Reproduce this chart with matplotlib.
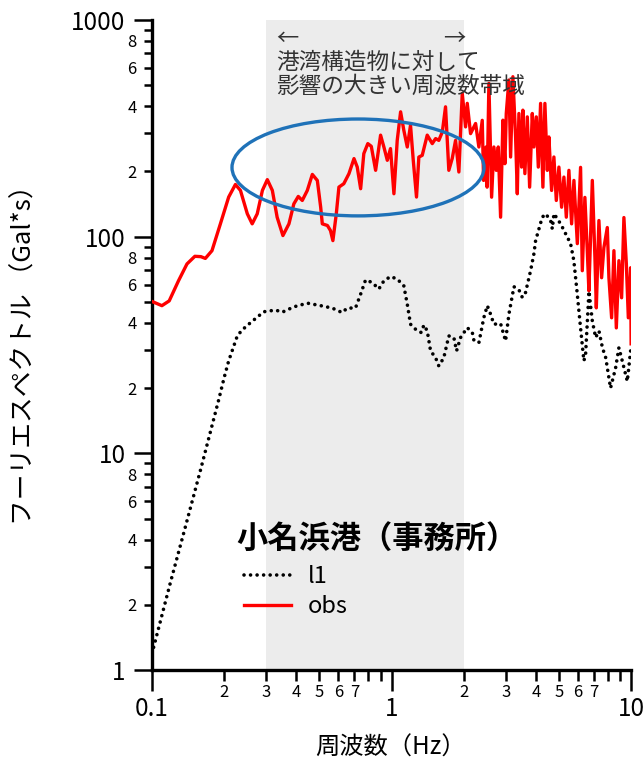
import matplotlib
matplotlib.use("Agg")
import matplotlib.pyplot as plt
from matplotlib.patches import Ellipse
from matplotlib.ticker import FixedLocator, FixedFormatter

plt.rcParams["font.family"] = ["Noto Sans CJK JP", "DejaVu Sans"]

# --- Data (frequency in Hz, amplitude in Gal*s) ---
l1_freq = [0.100, 0.119, 0.138, 0.160, 0.190, 0.200, 0.209, 0.227, 0.238, 0.258,
           0.293, 0.328, 0.350, 0.391, 0.445, 0.506, 0.565, 0.622, 0.653, 0.707,
           0.743, 0.779, 0.830, 0.885, 0.929, 0.990, 1.056, 1.125, 1.163, 1.200,
           1.280, 1.330, 1.365, 1.409, 1.455, 1.527, 1.575, 1.652, 1.734, 1.820,
           1.868, 1.941, 2.070, 2.173, 2.207, 2.315, 2.428, 2.510, 2.589, 2.674,
           2.851, 2.992, 3.090, 3.243, 3.404, 3.514, 3.625, 3.805, 3.928, 3.993,
           4.257, 4.396, 4.613, 4.688, 4.763, 5.090, 5.588, 5.767, 5.960, 6.149,
           6.351, 6.457, 6.668, 6.887, 7.111, 7.342, 7.590, 7.834, 8.206, 8.616,
           8.892, 9.183, 9.640, 9.950]
l1_amp = [1.19, 2.5, 4.6, 8.5, 17.7, 22.3, 26.7, 34.8, 37.1, 40.1,
          45.0, 45.8, 44.8, 47.4, 49.3, 48.0, 46.8, 44.6, 46.8, 46.8,
          54.3, 63.1, 61.4, 57.3, 62.5, 65.4, 63.7, 59.3, 48.8, 39.4,
          36.7, 36.1, 39.1, 36.7, 29.7, 27.6, 25.3, 27.6, 34.8, 34.2,
          29.7, 34.2, 38.0, 36.1, 33.2, 32.4, 42.3, 48.0, 43.9, 39.4,
          39.7, 33.0, 43.9, 58.7, 56.7, 52.4, 55.2, 69.6, 83.2, 95.8,
          122.8, 127.4, 118.6, 108.6, 127.6, 114.0, 92.8, 77.4, 54.3, 38.0,
          26.7, 28.7, 56.0, 40.8, 34.2, 36.7, 30.7, 27.6, 20.0, 24.8,
          30.7, 26.7, 21.5, 29.7]

obs_freq = [0.100, 0.110, 0.118, 0.129, 0.140, 0.151, 0.160, 0.167, 0.178, 0.193,
            0.209, 0.223, 0.234, 0.250, 0.262, 0.275, 0.289, 0.303, 0.318, 0.333,
            0.352, 0.373, 0.391, 0.408, 0.424, 0.445, 0.467, 0.490, 0.506, 0.514,
            0.540, 0.556, 0.569, 0.588, 0.603, 0.632, 0.664, 0.697, 0.719, 0.743,
            0.766, 0.796, 0.823, 0.858, 0.900, 0.929, 0.960, 0.990, 1.023, 1.056,
            1.091, 1.125, 1.163, 1.200, 1.232, 1.271, 1.300, 1.343, 1.409, 1.479,
            1.527, 1.575, 1.629, 1.680, 1.734, 1.792, 1.850, 1.910, 1.973, 2.037,
            2.070, 2.137, 2.243, 2.315, 2.391, 2.422,
            2.481, 2.505, 2.549, 2.616, 2.674, 2.736, 2.789, 2.852, 2.916, 2.972,
            3.012, 3.089, 3.140, 3.210, 3.294, 3.349, 3.401, 3.489, 3.533, 3.602,
            3.687, 3.770, 3.868, 3.928, 4.020, 4.098, 4.189, 4.283, 4.366, 4.468,
            4.537, 4.657, 4.761, 4.872, 4.995, 5.127, 5.242, 5.364, 5.500, 5.644,
            5.771, 5.963,
            6.152, 6.254, 6.412, 6.562, 6.664, 6.887, 7.062, 7.157, 7.338, 7.530,
            7.698, 7.954, 8.078, 8.291, 8.476, 8.674, 8.894, 9.126, 9.330, 9.550,
            9.735, 9.952, 10.0]
obs_amp = [50.2, 48.0, 50.5, 62.5, 74.8, 81.1, 80.8, 79.3, 86.1, 114.5,
           152.2, 174.0, 163.3, 127.4, 114.5, 127.4, 163.3, 183.1, 163.3, 122.8,
           101.1, 114.5, 141.6, 153.2, 146.8, 163.3, 193.6, 181.5, 136.7, 114.5,
           112.5, 106.6, 95.8, 127.4, 169.2, 175.4, 195.1, 229.0, 209.4, 166.3,
           241.5, 268.5, 261.0, 202.2, 293.8, 259.0, 224.9, 254.7, 157.6, 277.9,
           376.4, 309.6, 259.0, 326.3, 224.9, 152.2, 232.8, 237.1, 293.8, 268.5,
           283.3, 277.9, 304.0, 397.0, 202.2, 229.5, 277.9, 198.6, 458.0, 320.6,
           412.0, 298.6, 332.5, 259.0, 344.0, 181.6,
           259.1, 169.1, 509.2, 152.0, 259.1, 202.1, 259.1, 122.9, 344.4, 217.0,
           369.8, 527.6, 232.9, 546.5, 288.2, 157.6, 369.8, 209.3, 383.1, 195.2,
           356.7, 169.1, 369.8, 259.1, 356.7, 209.3, 411.6, 169.1, 411.6, 202.1,
           288.2, 163.3, 232.9, 146.8, 209.3, 136.6, 188.2, 122.9, 202.1, 114.5,
           181.6, 92.8,
           208.6, 69.6, 151.6, 86.1, 56.2, 181.6, 79.9, 46.9, 118.6, 64.6,
           88.9, 110.1, 64.6, 42.2, 86.1, 37.9, 77.4, 52.2, 122.4, 75.0,
           42.2, 71.8, 32.0]

band = (0.3, 2.0)

x_major = [0.1, 1, 10]
x_major_labels = ["0.1", "1", "10"]
x_minor = [m * d for d in (0.1, 1) for m in range(2, 10)]
x_minor_labels = ["2", "3", "4", "5", "6", "7", "", ""] * 2

y_major = [1, 10, 100, 1000]
y_major_labels = ["1", "10", "100", "1000"]
y_minor = [m * d for d in (1, 10, 100) for m in range(2, 10)]
y_minor_labels = ["2", "", "4", "", "6", "", "8", ""] * 3

assert len(l1_freq) == len(l1_amp)
assert len(obs_freq) == len(obs_amp)

# --- Figure ---
fig = plt.figure(figsize=(6.44, 7.64), dpi=100)
ax = fig.add_axes([0.236, 0.123, 0.744, 0.851])

ax.axvspan(band[0], band[1], color="#ececec", zorder=0, lw=0)
obs_line, = ax.plot(obs_freq, obs_amp, color="#ff0000", lw=2.4, zorder=3, label="obs")
l1_line, = ax.plot(l1_freq, l1_amp, color="black", lw=2.6, ls=(0, (0.01, 1.8)),
                   dash_capstyle="round", zorder=4, label="l1")

ax.set_xscale("log")
ax.set_yscale("log")
ax.set_xlim(0.1, 10)
ax.set_ylim(1, 1000)

ax.xaxis.set_major_locator(FixedLocator(x_major))
ax.xaxis.set_major_formatter(FixedFormatter(x_major_labels))
ax.xaxis.set_minor_locator(FixedLocator(x_minor))
ax.xaxis.set_minor_formatter(FixedFormatter(x_minor_labels))
ax.yaxis.set_major_locator(FixedLocator(y_major))
ax.yaxis.set_major_formatter(FixedFormatter(y_major_labels))
ax.yaxis.set_minor_locator(FixedLocator(y_minor))
ax.yaxis.set_minor_formatter(FixedFormatter(y_minor_labels))

for s in ["top", "right"]:
    ax.spines[s].set_visible(False)
for s in ["left", "bottom"]:
    ax.spines[s].set_linewidth(2.4)

ax.tick_params(axis="x", which="major", direction="out", length=15, width=1.8,
               labelsize=17.5, pad=4)
ax.tick_params(axis="x", which="minor", direction="out", length=8, width=1.8,
               labelsize=12, pad=2)
ax.tick_params(axis="y", which="major", direction="out", length=13, width=1.8,
               labelsize=17.5, pad=6)
ax.tick_params(axis="y", which="minor", direction="out", length=6, width=1.8,
               labelsize=12, pad=5)

# highlighted region
ax.add_patch(Ellipse((0.430, 0.773), 0.526, 0.149, transform=ax.transAxes,
                     fill=False, edgecolor="#1f72b8", lw=2.4, zorder=5))

ax.text(0.259, 0.972, "←", transform=ax.transAxes, ha="left", va="center",
        fontsize=16, color="#333333")
ax.text(0.653, 0.972, "→", transform=ax.transAxes, ha="right", va="center",
        fontsize=16, color="#333333")
ax.text(0.259, 0.952, "港湾構造物に対して\n影響の大きい周波数帯域", transform=ax.transAxes,
        ha="left", va="top", fontsize=16.3, color="#333333", linespacing=1.05)

# legend with a separate title line
ax.text(0.177, 0.200, "小名浜港（事務所）", transform=ax.transAxes, ha="left",
        va="center", fontsize=22.5, fontweight="bold")
ax.legend(handles=[l1_line, obs_line], loc="upper left",
          bbox_to_anchor=(0.167, 0.180), frameon=False, fontsize=17,
          handlelength=2.0, handletextpad=0.7, labelspacing=0.3, borderpad=0)

fig.text(25 / 644, 0.543, "フーリエスペクトル （Gal*s）", rotation=90,
         ha="center", va="center", fontsize=18.5)
fig.text(390 / 644, (764 - 748) / 764, "周波数（Hz）", ha="center", va="center",
         fontsize=17.5)

fig.savefig("out.png", dpi=100)
